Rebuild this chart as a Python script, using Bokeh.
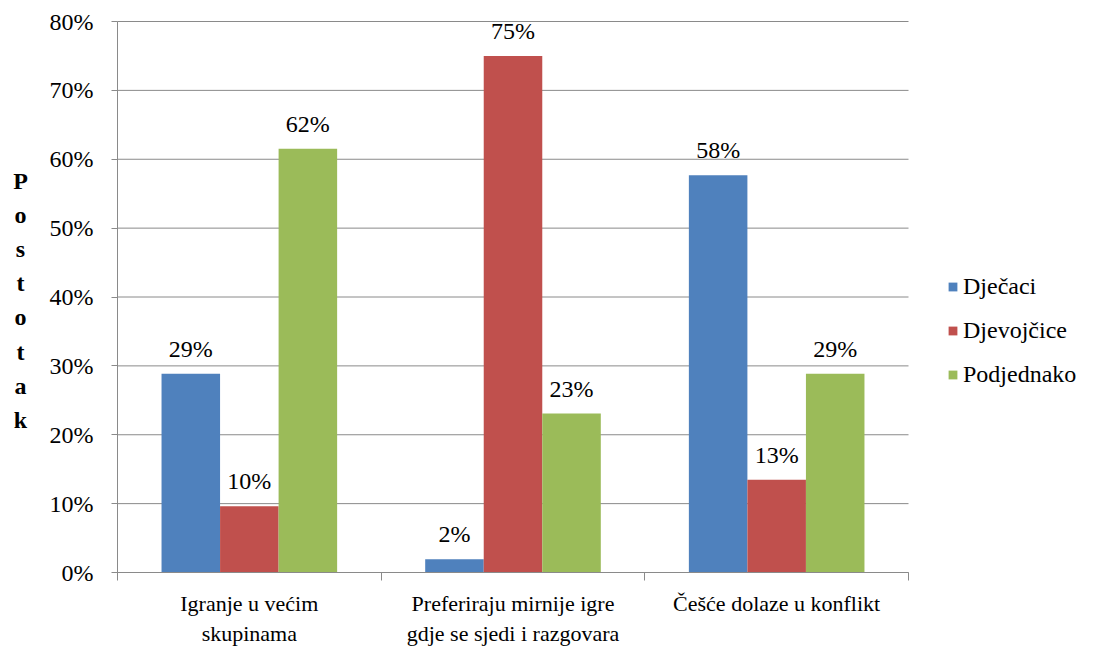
from bokeh.plotting import figure
from bokeh.models import (ColumnDataSource, FixedTicker, NumeralTickFormatter, Range1d,
                          LabelSet, Label, Legend, LegendItem, LinearAxis)
from bokeh.core.properties import value
from bokeh.embed import file_html
from bokeh.resources import INLINE

categories = ["Igranje u većim\nskupinama",
              "Preferiraju mirnije igre\ngdje se sjedi i razgovara",
              "Češće dolaze u konflikt"]
series_names = ["Dječaci", "Djevojčice", "Podjednako"]
djecaci = [28.85, 1.92, 57.69]
djevojcice = [9.62, 75.00, 13.46]
podjednako = [61.54, 23.08, 28.85]
y_ticks = [0, 10, 20, 30, 40, 50, 60, 70, 80]
axis_title = "Postotak"

colors = ["#4F81BD", "#C0504D", "#9BBB59"]
FONT = "serif"
GRID = "#8A8A8A"

# ---- layout (pixels) ----
W, H = 1090, 646
PX_L, PX_R = 117, 908      # plot area left/right (x data 0 .. n groups)
PX_T, PX_B = 21, 572       # plot area top/bottom (y data 0.8 .. 0)
n = len(categories)
ymax = y_ticks[-1] / 100
sx = (PX_R - PX_L) / n
sy = (PX_B - PX_T) / ymax
x_range = Range1d(-PX_L / sx, (W - PX_L) / sx)
y_range = Range1d(-(H - PX_B) / sy, ymax + PX_T / sy)

p = figure(width=W, height=H, output_backend="svg", toolbar_location=None,
           x_range=x_range, y_range=y_range, x_axis_type=None, y_axis_type=None,
           min_border=0, min_border_left=0, min_border_right=0,
           min_border_top=0, min_border_bottom=0)
p.outline_line_color = None
p.background_fill_color = "white"
p.border_fill_color = "white"
p.grid.grid_line_color = None

# horizontal gridlines, limited to the plot area
grid_y = [t / 100 for t in y_ticks]
p.segment(x0=[0] * len(grid_y), x1=[n] * len(grid_y), y0=grid_y, y1=grid_y,
          line_color=GRID, line_width=1)

bar_w = 0.222
offsets = [-bar_w, 0.0, bar_w]
all_series = [djecaci, djevojcice, podjednako]
renderers = []
for vals, off, col in zip(all_series, offsets, colors):
    src = ColumnDataSource(dict(
        x=[i + 0.5 + off for i in range(n)],
        top=[v / 100 for v in vals],
        lab=[f"{round(v):d}%" for v in vals],
    ))
    r = p.vbar(x="x", top="top", width=bar_w, source=src, fill_color=col, line_color=None)
    renderers.append(r)
    p.add_layout(LabelSet(x="x", y="top", text="lab", source=src, text_align="center",
                          text_baseline="alphabetic", y_offset=17, text_font=value(FONT),
                          text_font_size=value("24px"), text_color="black"))

# y axis (fixed at x = 0)
yticker = FixedTicker(ticks=grid_y)
yax = LinearAxis(fixed_location=0, bounds=(0, ymax), ticker=yticker,
                 formatter=NumeralTickFormatter(format="0%"))
yax.axis_line_color = GRID
yax.major_tick_line_color = GRID
yax.major_tick_out = 6
yax.major_tick_in = 0
yax.minor_tick_line_color = None
yax.major_label_text_font = FONT
yax.major_label_text_font_size = "24px"
yax.major_label_text_color = "black"
yax.major_label_standoff = 18
p.add_layout(yax, "left")

# x axis (fixed at y = 0)
centers = [i + 0.5 for i in range(n)]
xax = LinearAxis(fixed_location=0, bounds=(0, n),
                 ticker=FixedTicker(ticks=centers, minor_ticks=list(range(n + 1))))
xax.major_label_overrides = {c: lab for c, lab in zip(centers, categories)}
xax.axis_line_color = GRID
xax.major_tick_line_color = None
xax.major_tick_out = 0
xax.major_tick_in = 0
xax.minor_tick_line_color = GRID
xax.minor_tick_out = 8
xax.minor_tick_in = 0
xax.major_label_text_font = FONT
xax.major_label_text_font_size = "22px"
xax.major_label_text_font_style = "normal"
xax.major_label_text_color = "black"
xax.major_label_standoff = 10
p.add_layout(xax, "below")

# vertical stacked axis title
title_x = (20 - PX_L) / sx
title_y0 = (PX_B - 180) / sy
title_step = 34.2 / sy
for i, ch in enumerate(axis_title):
    p.add_layout(Label(x=title_x, y=title_y0 - i * title_step, text=ch, text_align="center",
                       text_baseline="middle", text_font=FONT, text_font_size="24px",
                       text_font_style="bold", text_color="black"))

legend = Legend(items=[LegendItem(label=nm, renderers=[r]) for nm, r in zip(series_names, renderers)],
                location=(947, H - 388), orientation="vertical")
legend.border_line_color = None
legend.background_fill_alpha = 0
legend.padding = 0
legend.margin = 0
legend.glyph_width = 11
legend.glyph_height = 11
legend.label_standoff = 5
legend.spacing = 17
legend.label_text_font = FONT
legend.label_text_font_size = "24px"
legend.label_text_font_style = "normal"
legend.label_text_color = "black"
p.add_layout(legend)

open("out.html", "w").write(file_html(p, INLINE))
